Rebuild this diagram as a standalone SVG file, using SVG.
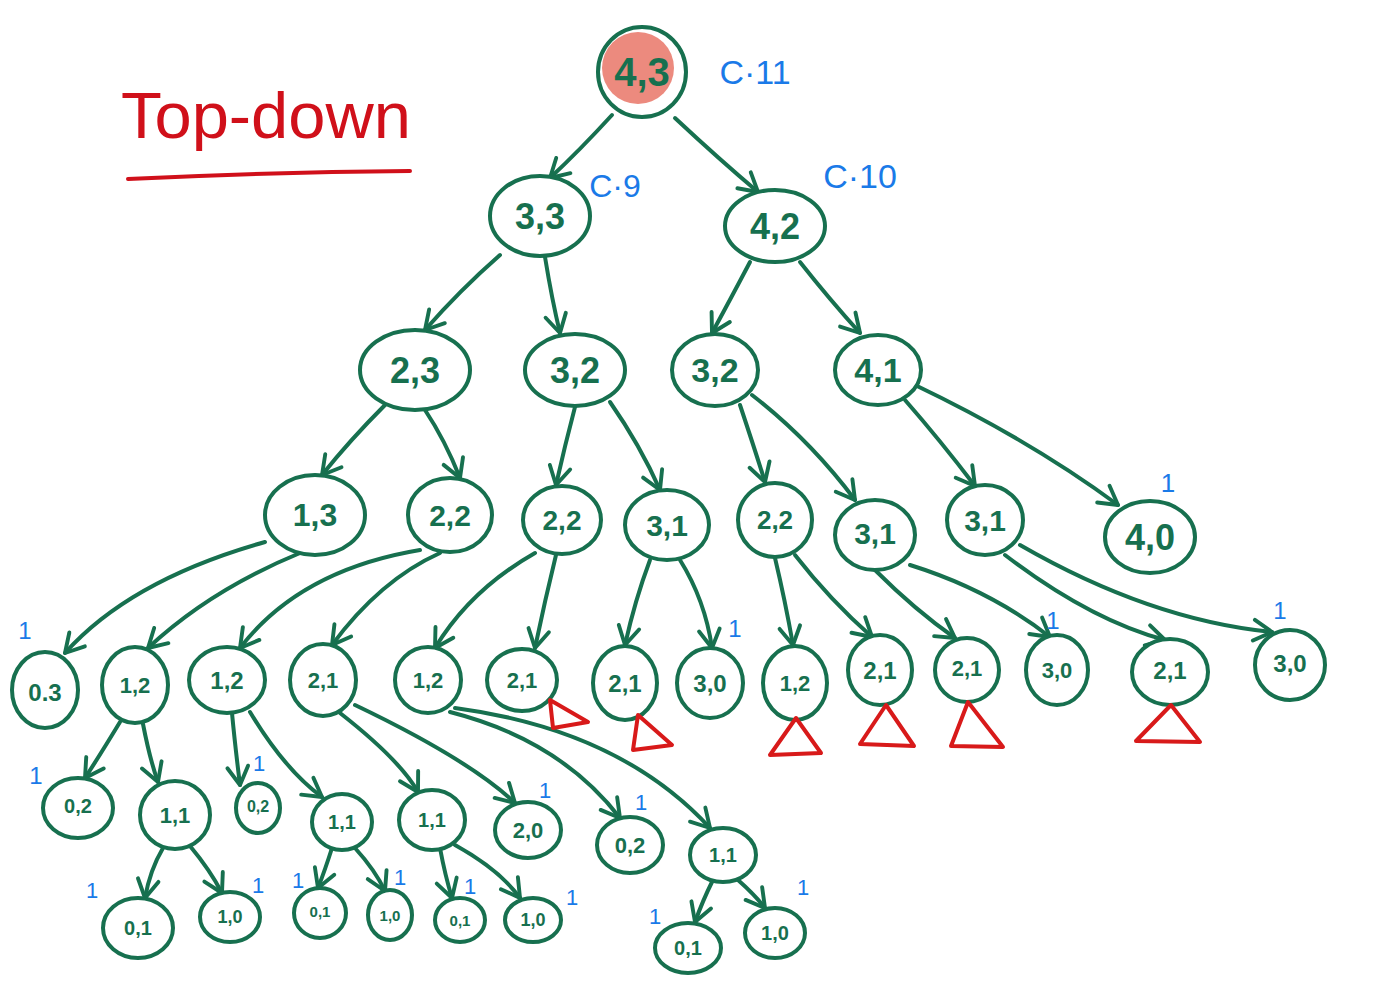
<svg xmlns="http://www.w3.org/2000/svg" width="1373" height="1000" viewBox="0 0 1373 1000">
<style>
.n{fill:#fff;stroke:#17704f;stroke-width:4}
.t{fill:#17704f;font-family:"Liberation Sans",sans-serif;font-weight:bold;text-anchor:middle;dominant-baseline:central}
.e{fill:none;stroke:#17704f;stroke-width:4;stroke-linecap:round;marker-end:url(#ah)}
.b{fill:#1a7ae8;font-family:"Liberation Sans",sans-serif;text-anchor:middle;dominant-baseline:central}
.tri{fill:none;stroke:#d81a1a;stroke-width:4;stroke-linejoin:round}
</style>
<defs>
<marker id="ah" markerUnits="userSpaceOnUse" markerWidth="26" markerHeight="26" viewBox="0 0 20 20" refX="17" refY="10" orient="auto">
<path d="M3,2 L17,10 L3,18" fill="none" stroke="#17704f" stroke-width="3" stroke-linecap="round" stroke-linejoin="round"/>
</marker>
</defs>
<rect width="1373" height="1000" fill="#fff"/>
<g id="title">
<text x="266" y="116" fill="#d0101a" font-family="Liberation Sans,sans-serif" font-size="64" text-anchor="middle" dominant-baseline="central" textLength="290" lengthAdjust="spacingAndGlyphs">Top-down</text>
<path d="M128,179 Q270,172 410,171" fill="none" stroke="#d0101a" stroke-width="4" stroke-linecap="round"/>
</g>
<g id="connectors">
<path class="e" d="M612,115 Q580,150 550,178"/>
<path class="e" d="M675,118 Q720,160 758,192"/>
<path class="e" d="M500,255 Q460,290 425,330"/>
<path class="e" d="M545,257 Q552,300 560,333"/>
<path class="e" d="M750,262 Q730,300 712,333"/>
<path class="e" d="M800,262 Q830,300 860,333"/>
<path class="e" d="M385,405 Q350,440 322,475"/>
<path class="e" d="M425,410 Q445,440 460,478"/>
<path class="e" d="M575,407 Q565,445 556,485"/>
<path class="e" d="M610,402 Q640,445 660,490"/>
<path class="e" d="M740,405 Q755,450 765,482"/>
<path class="e" d="M752,395 Q810,440 855,500"/>
<path class="e" d="M905,400 Q940,440 975,486"/>
<path class="e" d="M915,385 Q1030,440 1118,505"/>
<path class="e" d="M265,542 Q130,580 65,653"/>
<path class="e" d="M300,553 Q210,590 148,648"/>
<path class="e" d="M420,550 Q300,570 240,648"/>
<path class="e" d="M440,553 Q380,580 332,645"/>
<path class="e" d="M535,553 Q470,590 435,648"/>
<path class="e" d="M556,555 Q545,600 535,648"/>
<path class="e" d="M650,560 Q635,600 625,645"/>
<path class="e" d="M680,560 Q705,600 712,648"/>
<path class="e" d="M775,558 Q785,600 793,645"/>
<path class="e" d="M795,555 Q830,600 872,637"/>
<path class="e" d="M875,570 Q915,610 955,638"/>
<path class="e" d="M910,565 Q990,590 1050,637"/>
<path class="e" d="M1005,555 Q1090,620 1165,640"/>
<path class="e" d="M1020,545 Q1150,620 1272,632"/>
<path class="e" d="M120,722 Q100,755 85,778"/>
<path class="e" d="M143,724 Q150,760 158,782"/>
<path class="e" d="M232,713 Q235,745 240,785"/>
<path class="e" d="M250,712 Q285,770 322,797"/>
<path class="e" d="M340,713 Q400,760 418,792"/>
<path class="e" d="M355,705 Q470,760 515,803"/>
<path class="e" d="M450,712 Q560,740 620,818"/>
<path class="e" d="M455,708 Q620,730 710,828"/>
<path class="e" d="M163,848 Q150,870 145,898"/>
<path class="e" d="M190,846 Q210,870 222,893"/>
<path class="e" d="M332,848 Q325,870 318,888"/>
<path class="e" d="M355,848 Q375,870 385,891"/>
<path class="e" d="M440,848 Q445,875 452,898"/>
<path class="e" d="M455,845 Q500,870 520,898"/>
<path class="e" d="M712,882 Q703,900 695,922"/>
<path class="e" d="M738,880 Q755,895 765,908"/>
</g>
<g id="n43"><ellipse class="n" cx="642" cy="72" rx="44" ry="45"/><circle cx="638" cy="68" r="36" fill="#ec8a7e"/><text class="t" x="642" y="72" font-size="40">4,3</text></g>
<g id="n33"><ellipse class="n" cx="540" cy="216" rx="50" ry="40"/><text class="t" x="540" y="216" font-size="36">3,3</text></g>
<g id="n42"><ellipse class="n" cx="775" cy="226" rx="50" ry="36"/><text class="t" x="775" y="226" font-size="36">4,2</text></g>
<g id="n23"><ellipse class="n" cx="415" cy="370" rx="55" ry="40"/><text class="t" x="415" y="370" font-size="36">2,3</text></g>
<g id="n32a"><ellipse class="n" cx="575" cy="370" rx="50" ry="36"/><text class="t" x="575" y="370" font-size="36">3,2</text></g>
<g id="n32b"><ellipse class="n" cx="715" cy="370" rx="43" ry="36"/><text class="t" x="715" y="370" font-size="34">3,2</text></g>
<g id="n41"><ellipse class="n" cx="878" cy="370" rx="43" ry="35"/><text class="t" x="878" y="370" font-size="34">4,1</text></g>
<g id="n13"><ellipse class="n" cx="315" cy="515" rx="50" ry="40"/><text class="t" x="315" y="515" font-size="32">1,3</text></g>
<g id="n22a"><ellipse class="n" cx="450" cy="515" rx="42" ry="37"/><text class="t" x="450" y="515" font-size="30">2,2</text></g>
<g id="n22b"><ellipse class="n" cx="562" cy="520" rx="39" ry="34"/><text class="t" x="562" y="520" font-size="28">2,2</text></g>
<g id="n31a"><ellipse class="n" cx="667" cy="525" rx="42" ry="35"/><text class="t" x="667" y="525" font-size="30">3,1</text></g>
<g id="n22c"><ellipse class="n" cx="775" cy="520" rx="37" ry="37"/><text class="t" x="775" y="520" font-size="26">2,2</text></g>
<g id="n31b"><ellipse class="n" cx="875" cy="535" rx="40" ry="35"/><text class="t" x="875" y="533" font-size="30">3,1</text></g>
<g id="n31c"><ellipse class="n" cx="985" cy="520" rx="38" ry="35"/><text class="t" x="985" y="520" font-size="30">3,1</text></g>
<g id="n40"><ellipse class="n" cx="1150" cy="537" rx="45" ry="36"/><text class="t" x="1150" y="537" font-size="36">4,0</text><text class="b" x="1168" y="483" font-size="26">1</text></g>
<g id="n03"><ellipse class="n" cx="45" cy="690" rx="33" ry="38"/><text class="t" x="45" y="692" font-size="24">0.3</text><text class="b" x="25" y="630" font-size="24">1</text></g>
<g id="n12a"><ellipse class="n" cx="135" cy="685" rx="33" ry="38"/><text class="t" x="135" y="685" font-size="22">1,2</text></g>
<g id="n12b"><ellipse class="n" cx="227" cy="680" rx="38" ry="33"/><text class="t" x="227" y="680" font-size="24">1,2</text></g>
<g id="n21a"><ellipse class="n" cx="323" cy="680" rx="33" ry="36"/><text class="t" x="323" y="680" font-size="22">2,1</text></g>
<g id="n12c"><ellipse class="n" cx="428" cy="680" rx="33" ry="33"/><text class="t" x="428" y="680" font-size="22">1,2</text></g>
<g id="n21b"><ellipse class="n" cx="522" cy="680" rx="35" ry="31"/><text class="t" x="522" y="680" font-size="22">2,1</text><path class="tri" d="M550,700 L588,722 L553,728 Z"/></g>
<g id="n21c"><ellipse class="n" cx="625" cy="683" rx="32" ry="37"/><text class="t" x="625" y="683" font-size="24">2,1</text><path class="tri" d="M638,715 L672,745 L633,750 Z"/></g>
<g id="n30a"><ellipse class="n" cx="710" cy="683" rx="33" ry="35"/><text class="t" x="710" y="683" font-size="24">3,0</text><text class="b" x="735" y="628" font-size="24">1</text></g>
<g id="n12d"><ellipse class="n" cx="795" cy="683" rx="32" ry="37"/><text class="t" x="795" y="683" font-size="22">1,2</text><path class="tri" d="M796,718 L821,753 L770,755 Z"/></g>
<g id="n21d"><ellipse class="n" cx="880" cy="670" rx="32" ry="35"/><text class="t" x="880" y="670" font-size="24">2,1</text><path class="tri" d="M886,705 L914,746 L860,744 Z"/></g>
<g id="n21e"><ellipse class="n" cx="967" cy="670" rx="32" ry="32"/><text class="t" x="967" y="668" font-size="22">2,1</text><path class="tri" d="M968,702 L1003,747 L951,746 Z"/></g>
<g id="n30b"><ellipse class="n" cx="1057" cy="670" rx="31" ry="35"/><text class="t" x="1057" y="670" font-size="22">3,0</text><text class="b" x="1053" y="620" font-size="24">1</text></g>
<g id="n21f"><ellipse class="n" cx="1170" cy="672" rx="38" ry="33"/><text class="t" x="1170" y="670" font-size="24">2,1</text><path class="tri" d="M1171,705 L1200,742 L1136,741 Z"/></g>
<g id="n30c"><ellipse class="n" cx="1290" cy="665" rx="35" ry="35"/><text class="t" x="1290" y="663" font-size="24">3,0</text><text class="b" x="1280" y="610" font-size="24">1</text></g>
<g id="n02a"><ellipse class="n" cx="78" cy="808" rx="35" ry="30"/><text class="t" x="78" y="806" font-size="20">0,2</text><text class="b" x="36" y="775" font-size="24">1</text></g>
<g id="n11a"><ellipse class="n" cx="175" cy="815" rx="35" ry="34"/><text class="t" x="175" y="815" font-size="22">1,1</text></g>
<g id="n02b"><ellipse class="n" cx="258" cy="808" rx="22" ry="25"/><text class="t" x="258" y="806" font-size="16">0,2</text><text class="b" x="259" y="763" font-size="22">1</text></g>
<g id="n11b"><ellipse class="n" cx="342" cy="822" rx="30" ry="28"/><text class="t" x="342" y="822" font-size="20">1,1</text></g>
<g id="n11c"><ellipse class="n" cx="432" cy="820" rx="33" ry="30"/><text class="t" x="432" y="820" font-size="20">1,1</text></g>
<g id="n20"><ellipse class="n" cx="528" cy="830" rx="33" ry="28"/><text class="t" x="528" y="830" font-size="22">2,0</text><text class="b" x="545" y="790" font-size="22">1</text></g>
<g id="n02c"><ellipse class="n" cx="630" cy="845" rx="33" ry="28"/><text class="t" x="630" y="845" font-size="22">0,2</text><text class="b" x="641" y="802" font-size="22">1</text></g>
<g id="n11d"><ellipse class="n" cx="723" cy="855" rx="33" ry="27"/><text class="t" x="723" y="855" font-size="20">1,1</text></g>
<g id="n01a"><ellipse class="n" cx="138" cy="928" rx="35" ry="30"/><text class="t" x="138" y="928" font-size="20">0,1</text><text class="b" x="92" y="890" font-size="22">1</text></g>
<g id="n10a"><ellipse class="n" cx="230" cy="917" rx="30" ry="25"/><text class="t" x="230" y="917" font-size="18">1,0</text><text class="b" x="258" y="885" font-size="22">1</text></g>
<g id="n01b"><ellipse class="n" cx="320" cy="913" rx="26" ry="25"/><text class="t" x="320" y="911" font-size="15">0,1</text><text class="b" x="298" y="880" font-size="22">1</text></g>
<g id="n10b"><ellipse class="n" cx="390" cy="915" rx="22" ry="25"/><text class="t" x="390" y="915" font-size="15">1,0</text><text class="b" x="400" y="877" font-size="22">1</text></g>
<g id="n01c"><ellipse class="n" cx="460" cy="920" rx="25" ry="22"/><text class="t" x="460" y="920" font-size="15">0,1</text><text class="b" x="470" y="886" font-size="22">1</text></g>
<g id="n10c"><ellipse class="n" cx="533" cy="920" rx="28" ry="22"/><text class="t" x="533" y="920" font-size="18">1,0</text><text class="b" x="572" y="897" font-size="22">1</text></g>
<g id="n01d"><ellipse class="n" cx="688" cy="948" rx="33" ry="25"/><text class="t" x="688" y="948" font-size="20">0,1</text><text class="b" x="655" y="916" font-size="22">1</text></g>
<g id="n10d"><ellipse class="n" cx="775" cy="933" rx="30" ry="25"/><text class="t" x="775" y="933" font-size="20">1,0</text><text class="b" x="803" y="887" font-size="22">1</text></g>
<g id="labels">
<text class="b" x="755" y="72" font-size="34">C·11</text>
<text class="b" x="615" y="186" font-size="32">C·9</text>
<text class="b" x="860" y="176" font-size="34">C·10</text>
</g>
</svg>
